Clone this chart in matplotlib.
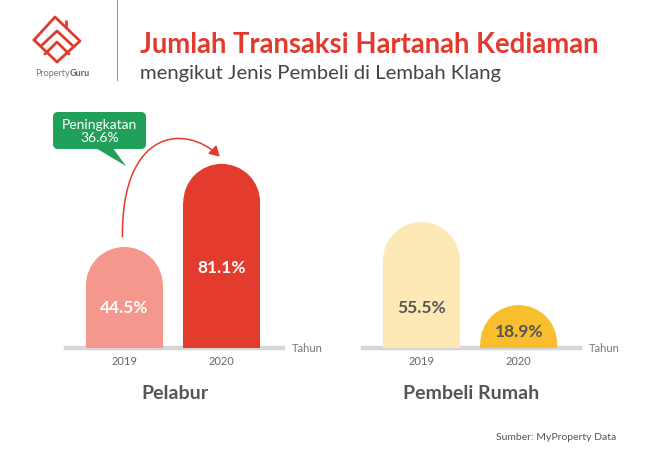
import matplotlib.pyplot as plt
from matplotlib.patches import Ellipse, FancyArrowPatch, FancyBboxPatch, Polygon
from matplotlib.path import Path

plt.rcParams["font.family"] = ["Lato", "DejaVu Sans"]

# data
groups = ["Pelabur", "Pembeli Rumah"]
years = ["2019", "2020"]
pelabur = [44.5, 81.1]
pembeli = [55.5, 18.9]
increase = 36.6

# layout (pixels of a 654x461 canvas)
W, H = 654, 461
PX_PER_PCT = 2.27
BASE_Y = 348
PANEL_LEFT = [66, 363]
PANEL_W = 217
XLIM = (-0.6, 1.63)
YMAX = 90
BAR_W = 0.79

bar_colors = [["#F5978C", "#E43B2F"], ["#FCE9B6", "#F8BE2D"]]
label_colors = ["white", "#555555"]
label_pos = [[17.6, 35.2], [17.6, 7.0]]
grey_line = "#D6D6D6"
red = "#E23A2F"

fig = plt.figure(figsize=(W / 100, H / 100), dpi=100)
bg = fig.add_axes([0, 0, 1, 1])
bg.set_xlim(0, W)
bg.set_ylim(H, 0)
bg.axis("off")

# header
bg.plot([117, 117], [0, 80], color="#9A9A9A", lw=0.8)
bg.text(140, 45, "Jumlah Transaksi Hartanah Kediaman", color=red,
        fontsize=19.8, fontweight="bold", va="center", ha="left")
bg.text(140, 73, "mengikut Jenis Pembeli di Lembah Klang", color="#444444",
        fontsize=14.6, va="center", ha="left")

# simplified logo
logo_kw = dict(color=red, lw=2, solid_joinstyle="round", solid_capstyle="round")
bg.plot([34, 55, 80, 57, 34], [40, 17, 41, 62, 40], **logo_kw)
bg.plot([66, 66], [26, 21], **logo_kw)
bg.plot([41, 57, 73], [46, 31, 46], **logo_kw)
bg.plot([45, 57, 69], [54, 42, 54], **logo_kw)
t_prop = bg.text(35, 74, "Property", color="#777777", fontsize=6.5,
                 va="center", ha="left")
bg.annotate("Guru", xy=(1, 0.5), xycoords=t_prop, color="#666666", fontsize=6.5,
            fontweight="bold", va="center", ha="left")

# callout
green = "#21A05A"
bg.add_patch(FancyBboxPatch((55, 114), 89, 33, boxstyle="round,pad=2,rounding_size=5",
                            fc=green, ec="none"))
bg.add_patch(Polygon([[94, 147], [112, 147], [126, 166]], closed=True, fc=green, ec="none"))
bg.text(99.5, 131, f"Peningkatan\n{increase}%", color="white", fontsize=10,
        ha="center", va="center", linespacing=1.1)

# footer
bg.text(616, 437, "Sumber: MyProperty Data", color="#555555", fontsize=7.5,
        ha="right", va="center")

series = [pelabur, pembeli]
ry = (BAR_W * PANEL_W / (XLIM[1] - XLIM[0]) / 2) / PX_PER_PCT

for g, (name, vals) in enumerate(zip(groups, series)):
    ax = fig.add_axes([PANEL_LEFT[g] / W, (H - BASE_Y) / H, PANEL_W / W,
                       YMAX * PX_PER_PCT / H])
    ax.set_xlim(*XLIM)
    ax.set_ylim(0, YMAX)
    ax.patch.set_visible(False)
    for s in ax.spines.values():
        s.set_visible(False)
    ax.set_yticks([])
    ax.axhline(0, color=grey_line, lw=3.2, zorder=1, clip_on=False)

    x = list(range(len(vals)))
    ax.bar(x, [v - ry for v in vals], width=BAR_W, color=bar_colors[g], zorder=2)
    for i, v in enumerate(vals):
        ax.add_patch(Ellipse((i, v - ry), BAR_W, 2 * ry, fc=bar_colors[g][i],
                             ec="none", zorder=2))
        ax.text(i, label_pos[g][i], f"{v}%", color=label_colors[g], fontsize=12.5,
                fontweight="bold", ha="center", va="center", zorder=3)

    ax.set_xticks(x)
    ax.set_xticklabels(years, color="#666666", fontsize=8)
    ax.tick_params(axis="x", length=0, pad=6)
    ax.annotate("Tahun", xy=(1, 0), xycoords="axes fraction", xytext=(6.5, 0),
                textcoords="offset points", color="#777777", fontsize=8,
                ha="left", va="center")
    ax.annotate(name, xy=(0.5, 0), xycoords="axes fraction", xytext=(0, -32.5),
                textcoords="offset points", color="#555555", fontsize=14,
                fontweight="bold", ha="center", va="center")

    if g == 0:
        # curved arrow from the 2019 bar to the 2020 bar
        y0 = vals[0] + 4.5
        y1 = vals[1] + 3.2
        verts = [(-0.02, y0), (-0.03, y0 + 47), (0.62, vals[1] + 18), (0.98, y1)]
        codes = [Path.MOVETO, Path.CURVE4, Path.CURVE4, Path.CURVE4]
        arrow = FancyArrowPatch(path=Path(verts, codes),
                                arrowstyle="-|>,head_length=6,head_width=3.5",
                                color=red, lw=1.1, transform=ax.transData,
                                clip_on=False, shrinkA=0, shrinkB=0)
        ax.add_patch(arrow)

fig.savefig("out.png", dpi=100)
